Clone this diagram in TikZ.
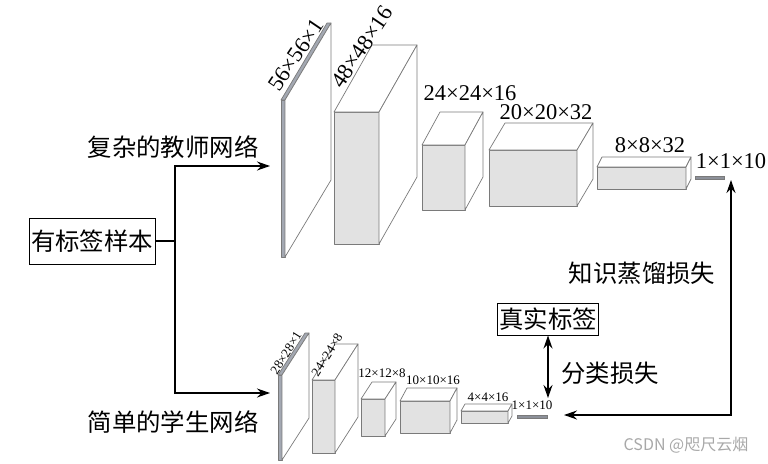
\documentclass[tikz,border=0pt]{standalone}
\usepackage{fontspec}
\setmainfont{Liberation Serif}
\newfontfamily\cjk{Noto Sans CJK SC}
\usetikzlibrary{arrows.meta}
\definecolor{frontgray}{HTML}{E2E2E2}
\definecolor{edgegray}{HTML}{7A7A7A}
\definecolor{slabgray}{HTML}{A3A8B2}
\definecolor{bargray}{HTML}{8C9099}
\definecolor{wmgray}{HTML}{A8A8A8}
\tikzset{
  boxedge/.style={draw=edgegray, line width=0.7pt, line join=round},
  bignum/.style={font=\fontsize{22.5}{26}\selectfont, inner sep=0pt},
  smallnum/.style={font=\fontsize{13}{15}\selectfont, inner sep=0pt},
  cjklabel/.style={font=\cjk\fontsize{24.4}{28}\selectfont, inner sep=0pt},
  cjkbox/.style={font=\cjk\fontsize{24.4}{28}\selectfont, draw, line width=1pt, inner xsep=2pt, inner ysep=0pt},
  conn/.style={line width=1.2pt, -{Stealth[length=13pt,width=9pt]}},
  dconn/.style={line width=1.2pt, {Stealth[length=13pt,width=9pt]}-{Stealth[length=13pt,width=9pt]}},
  plainline/.style={line width=1.2pt},
}
% cuboid: x, y (top-left of front face), w, h, dx, dy
\newcommand{\mycuboid}[6]{%
  \filldraw[boxedge, fill=frontgray] (#1,#2) rectangle ++(#3,#4);
  \filldraw[boxedge, fill=white] (#1,#2) -- ++(#5,-#6) -- ++(#3,0) -- ++(-#5,#6) -- cycle;
  \filldraw[boxedge, fill=white] (#1+#3,#2) -- ++(#5,-#6) -- ++(0,#4) -- ++(-#5,#6) -- cycle;
}
% slab: x, y, w, h, dx, dy
\newcommand{\myslab}[6]{%
  \filldraw[boxedge, fill=slabgray] (#1,#2) rectangle ++(#3,#4);
  \filldraw[boxedge, fill=slabgray] (#1,#2) -- ++(#5,-#6) -- ++(#3,0) -- ++(-#5,#6) -- cycle;
  \filldraw[boxedge, fill=white] (#1+#3,#2) -- ++(#5,-#6) -- ++(0,#4) -- ++(-#5,#6) -- cycle;
}
\begin{document}
\begin{tikzpicture}[x=1pt,y=-1pt]
\useasboundingbox (0,0) rectangle (768,463);

% ---------- teacher network ----------
\myslab{281}{100}{4}{157}{46}{77}
\mycuboid{334}{112}{45}{132}{38}{67}
\mycuboid{422}{145}{43}{65}{18}{33}
\mycuboid{489}{150}{88}{56}{16}{27}
\mycuboid{597}{167}{89}{22}{5}{10}
\filldraw[draw=edgegray, fill=bargray, line width=0.6pt] (695,176) rectangle (724,179);

\node[bignum, rotate=56] (t1) at (296,55) {56×56×1};
\node[bignum, rotate=56] (t2) at (362,47) {48×48×16};
\node[bignum] (t3) at (470,93) {24×24×16};
\node[bignum] (t4) at (546,112) {20×20×32};
\node[bignum] (t5) at (650,145) {8×8×32};
\node[bignum] (t6) at (731,161) {1×1×10};

% ---------- student network ----------
\myslab{278}{375}{4}{85}{27}{42}
\mycuboid{312}{380}{23}{73}{23}{36}
\mycuboid{361}{399}{24}{37}{11}{17}
\mycuboid{400}{401}{50}{32}{7}{13}
\mycuboid{461}{411}{47}{12}{4}{7}
\filldraw[draw=edgegray, fill=bargray, line width=0.6pt] (517,415) rectangle (547,418);

\node[smallnum, rotate=58] (s1) at (286,353) {28×28×1};
\node[smallnum, rotate=58] (s2) at (327,355) {24×24×8};
\node[smallnum] (s3) at (382,373) {12×12×8};
\node[smallnum] (s4) at (433,380) {10×10×16};
\node[smallnum] (s5) at (488,397) {4×4×16};
\node[smallnum] (s6) at (532,405) {1×1×10};

% ---------- left: input ----------
\node[cjkbox, minimum height=46pt] (sample) at (92,241) {有标签样本};
\node[cjklabel] (teacher) at (173,147) {复杂的教师网络};
\node[cjklabel] (student) at (173,422) {简单的学生网络};
\coordinate (fork) at (175,241);
\coordinate (tEntry) at (270,166);
\coordinate (sEntry) at (270,393);
\draw[plainline] (sample.east) -- (fork);
\draw[conn] (fork) |- (tEntry);
\draw[conn] (fork) |- (sEntry);

% ---------- right: losses ----------
\coordinate (tOut) at (731,180);
\coordinate (sOut) at (564,415);
\draw[dconn] (sOut) -| (tOut);
\node[cjklabel] (kd) at (642,273) {知识蒸馏损失};

\node[cjkbox, minimum height=32pt] (truth) at (548,319) {真实标签};
\coordinate (cls) at (548,398);
\draw[dconn] (truth.south) -- (cls);
\node[cjklabel] (clsloss) at (610,373) {分类损失};

\node[font=\cjk\fontsize{16}{18}\selectfont, text=wmgray, inner sep=0pt] (wm) at (686,445) {CSDN @咫尺云烟};
\end{tikzpicture}
\end{document}
